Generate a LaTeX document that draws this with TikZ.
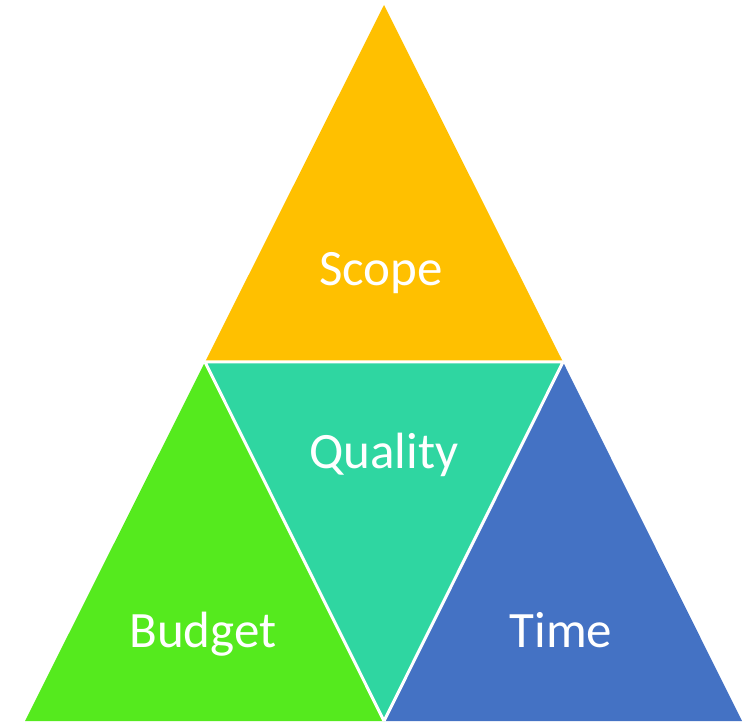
\documentclass[tikz,border=0pt]{standalone}
\usepackage{fontspec}
\setmainfont{Carlito}
\usepackage{xcolor}
\usetikzlibrary{positioning}

\definecolor{scopecol}{HTML}{FFC000}
\definecolor{qualcol}{HTML}{2FD6A1}
\definecolor{budgcol}{HTML}{55EA1E}
\definecolor{timecol}{HTML}{4472C4}

\tikzset{
    label text/.style={anchor=base, text=white, font=\fontsize{51}{61}\selectfont},
    gap/.style={draw=white, line width=3pt}
}

\begin{document}
\begin{tikzpicture}[x=1pt, y=1pt]
        \useasboundingbox (0, 0) rectangle (749, 721);

        \coordinate (top) at (384, 716);
        \coordinate (ml) at (205, 359);
        \coordinate (mr) at (563, 359);
        \coordinate (bl) at (25, 0);
        \coordinate (bm) at (384, 0);
        \coordinate (br) at (742, 0);

        \fill[scopecol] (top) -- (ml) -- (mr) -- cycle;
        \fill[qualcol] (ml) -- (mr) -- (bm) -- cycle;
        \fill[budgcol] (ml) -- (bl) -- (bm) -- cycle;
        \fill[timecol] (mr) -- (bm) -- (br) -- cycle;

        \draw[gap] (ml) -- (mr)
            (ml) -- (bm)
            (mr) -- (bm);

        \node[label text] (scope) at (381, 435) {Scope};
        \node[label text] (quality) at (384, 253) {Quality};
        \node[label text] (budget) at (203, 74) {Budget};
        \node[label text] (time) at (561, 74) {Time};
    \end{tikzpicture}
\end{document}
